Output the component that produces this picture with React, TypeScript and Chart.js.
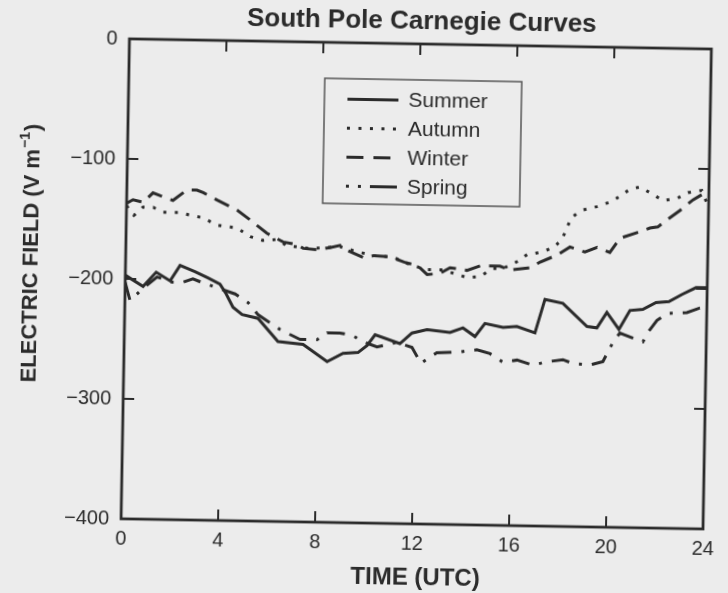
import React, { useEffect, useRef } from "react";
import { Chart, registerables } from "chart.js";

Chart.register(...registerables);

// ---- data (hours UTC, electric field V/m) ----
const summerHours = [0, 0.74, 1.27, 1.85, 2.25, 2.87, 3.41, 3.91, 4.17, 4.46, 4.84, 5.5, 6.34, 7.38, 8.38, 9.03, 9.65, 10.02, 10.34, 11.37, 11.86, 12.48, 13.43, 13.96, 14.46, 14.86, 15.61, 16.18, 16.93, 17.32, 18.06, 19.07, 19.48, 19.88, 20.39, 20.83, 21.36, 21.9, 22.43, 22.96, 23.54, 24];
const summerField = [-197, -206, -194, -201, -188, -193, -198, -203, -211, -222, -228, -231, -250, -252, -266, -259, -258, -252, -243, -250, -241, -238, -240, -236, -243, -232, -235, -234, -239, -211, -214, -233, -234, -221, -235, -219, -218, -212, -211, -205, -199, -199];

const autumnHours = [0, 0.31, 0.68, 1.1, 1.51, 2.21, 2.63, 3.16, 3.75, 4.16, 4.57, 5.12, 5.65, 6.23, 6.64, 7.6, 8.3, 8.83, 9.53, 10.2, 11.02, 11.73, 12.43, 13.09, 14.09, 14.62, 15.15, 15.56, 16.14, 16.55, 17.08, 17.61, 17.98, 18.17, 18.37, 18.82, 19.39, 19.93, 20.34, 20.74, 21.15, 21.7, 22.11, 22.69, 23.14, 23.71, 24];
const autumnField = [-139, -147, -140, -140, -144, -144, -146, -148, -154, -155, -156, -163, -166, -165, -170, -172, -171, -170, -174, -177, -178, -184, -188, -188, -194, -193, -186, -186, -180, -174, -172, -168, -161, -151, -142, -136, -133, -129, -124, -118, -116, -122, -127, -125, -120, -118, -132];

const winterHours = [0, 0.26, 0.68, 1.08, 1.91, 2.48, 2.89, 3.15, 3.73, 4.56, 5.1, 5.81, 6.48, 7.06, 7.31, 7.88, 8.42, 8.83, 9.12, 9.83, 10.24, 10.94, 11.48, 12.06, 12.44, 12.97, 13.38, 14.08, 14.62, 15.44, 15.85, 16.68, 17.09, 17.78, 18.31, 18.93, 19.43, 19.96, 20.37, 21.07, 21.6, 21.92, 22.29, 22.82, 23.35, 23.83, 24];
const winterField = [-137, -134, -136, -128, -134, -125, -125, -127, -133, -141, -149, -160, -167, -169, -172, -173, -171, -169, -173, -179, -177, -178, -182, -185, -192, -191, -186, -188, -184, -184, -187, -185, -180, -174, -167, -171, -167, -171, -159, -154, -150, -149, -143, -135, -126, -120, -122];

const springHours = [0, 0.21, 0.78, 1.31, 1.93, 2.38, 2.79, 3.17, 4.54, 5.08, 5.5, 6.42, 7.25, 7.95, 8.36, 8.89, 9.43, 9.85, 10.43, 11.25, 11.87, 12.25, 12.9, 13.85, 14.55, 15.09, 15.63, 16.21, 16.87, 17.44, 18.1, 18.52, 19.22, 19.75, 20.15, 20.43, 20.97, 21.39, 21.59, 21.95, 22.36, 23.18, 23.71, 24];
const springField = [-203, -218, -207, -198, -202, -202, -199, -202, -211, -218, -228, -240, -248, -248, -242, -242, -244, -249, -253, -249, -253, -266, -257, -256, -254, -257, -264, -262, -266, -263, -261, -264, -265, -262, -246, -238, -242, -245, -237, -227, -221, -220, -216, -216];

const seriesNames = ["Summer", "Autumn", "Winter", "Spring"];
const xTickValues = [0, 4, 8, 12, 16, 20, 24];
const yTickValues = [0, -100, -200, -300, -400];

const chartTitle = "South Pole Carnegie Curves";
const xAxisTitle = "TIME (UTC)";
const yAxisTitleMain = "ELECTRIC FIELD (V m";
const yAxisTitleSup = "\u22121";
const yAxisTitleEnd = ")";

// ---- styling ----
const INK = "#2b2b2b";
const BG = "#ececec";
const FONT = "'Liberation Sans', Arial, Helvetica, sans-serif";

const dashes = [[], [3, 8.5], [16, 9], [18, 10, 3, 10]];
const legendDashes = [[], [3, 8.5], [17, 10], [3, 9, 3, 9, 28, 40]];
const widths = [3, 3, 3, 3];

function toPoints(h: number[], v: number[]) {
  return h.map((x, i) => ({ x, y: v[i] }));
}

const overlay = {
  id: "overlay",
  afterDatasetsDraw(chart: any) {
    const { ctx, chartArea: a, scales } = chart;
    const xs = scales.x;
    const ys = scales.y;
    ctx.save();
    ctx.strokeStyle = INK;
    ctx.lineCap = "butt";
    ctx.setLineDash([]);
    // frame
    ctx.lineWidth = 2.8;
    ctx.strokeRect(a.left, a.top, a.right - a.left, a.bottom - a.top);
    // inward ticks on all sides
    ctx.lineWidth = 2;
    const L = 11;
    const seg = (x1: number, y1: number, x2: number, y2: number) => {
      ctx.beginPath();
      ctx.moveTo(x1, y1);
      ctx.lineTo(x2, y2);
      ctx.stroke();
    };
    xTickValues.slice(1, -1).forEach((t) => {
      const px = xs.getPixelForValue(t);
      seg(px, a.bottom, px, a.bottom - L);
      seg(px, a.top, px, a.top + L);
    });
    yTickValues.slice(1, -1).forEach((v) => {
      const py = ys.getPixelForValue(v);
      seg(a.left, py, a.left + L, py);
      seg(a.right, py, a.right - L, py);
    });

    // legend box
    const bx = 321, by = 79, bw = 197, bh = 125;
    ctx.fillStyle = BG;
    ctx.fillRect(bx, by, bw, bh);
    ctx.lineWidth = 1.5;
    ctx.strokeStyle = "#555555";
    ctx.strokeRect(bx, by, bw, bh);
    ctx.strokeStyle = INK;
    ctx.fillStyle = INK;
    ctx.font = `21px ${FONT}`;
    ctx.textAlign = "left";
    ctx.textBaseline = "middle";
    chart.data.datasets.forEach((ds: any, i: number) => {
      const yy = 99.5 + i * 29;
      ctx.lineWidth = ds.borderWidth;
      ctx.setLineDash(legendDashes[i]);
      seg(344, yy, 395, yy);
      ctx.setLineDash([]);
      ctx.fillText(ds.label, 405, yy + 1);
    });

    // chart title
    ctx.textAlign = "center";
    ctx.textBaseline = "alphabetic";
    ctx.font = `bold 26px ${FONT}`;
    ctx.fillText(chartTitle, 417, 28);

    // x axis title
    ctx.font = `bold 24px ${FONT}`;
    ctx.fillText(xAxisTitle, 420, 584);

    // y axis title (rotated, with superscript)
    ctx.translate(37, 259);
    ctx.rotate(-Math.PI / 2);
    const mainFont = `bold 22px ${FONT}`;
    const supFont = `bold 14px ${FONT}`;
    ctx.font = mainFont;
    const w1 = ctx.measureText(yAxisTitleMain).width;
    const w3 = ctx.measureText(yAxisTitleEnd).width;
    ctx.font = supFont;
    const w2 = ctx.measureText(yAxisTitleSup).width;
    const total = w1 + w2 + 2 + w3;
    let cx = -total / 2;
    ctx.textAlign = "left";
    ctx.font = mainFont;
    ctx.fillText(yAxisTitleMain, cx, 0);
    cx += w1 + 1;
    ctx.font = supFont;
    ctx.fillText(yAxisTitleSup, cx, -10);
    cx += w2 + 1;
    ctx.font = mainFont;
    ctx.fillText(yAxisTitleEnd, cx, 0);
    ctx.restore();
  },
};

export default function App() {
  const ref = useRef<HTMLCanvasElement | null>(null);

  useEffect(() => {
    document.body.style.margin = "0";
    document.body.style.background = BG;
    const canvas = ref.current;
    if (!canvas) return;
    const series = [
      toPoints(summerHours, summerField),
      toPoints(autumnHours, autumnField),
      toPoints(winterHours, winterField),
      toPoints(springHours, springField),
    ];
    const chart = new Chart(canvas, {
      type: "line",
      data: {
        datasets: series.map((d, i) => ({
          label: seriesNames[i],
          data: d,
          borderColor: INK,
          backgroundColor: INK,
          borderWidth: widths[i],
          borderDash: dashes[i],
          borderCapStyle: "butt",
          borderJoinStyle: "miter",
          pointRadius: 0,
          tension: 0,
          fill: false,
        })),
      },
      options: {
        animation: false,
        responsive: false,
        devicePixelRatio: 1,
        layout: { padding: { top: 43, right: 21, left: 0, bottom: 0 } },
        plugins: {
          legend: { display: false },
          title: { display: false },
          tooltip: { enabled: false },
        },
        scales: {
          x: {
            type: "linear",
            min: 0,
            max: 24,
            afterBuildTicks: (s: any) => {
              s.ticks = xTickValues.map((v) => ({ value: v }));
            },
            ticks: {
              color: INK,
              font: { size: 20, family: FONT },
              padding: 8,
              maxRotation: 0,
              autoSkip: false,
            },
            grid: { display: false, drawTicks: false },
            border: { display: false },
            afterFit: (s: any) => {
              s.height = 70;
            },
          },
          y: {
            type: "linear",
            min: -400,
            max: 0,
            afterBuildTicks: (s: any) => {
              s.ticks = yTickValues.map((v) => ({ value: v }));
            },
            ticks: {
              color: INK,
              font: { size: 20, family: FONT },
              padding: 12,
              callback: (v: any) => (Number(v) < 0 ? "\u2212" + Math.abs(Number(v)) : String(v)),
            },
            grid: { display: false, drawTicks: false },
            border: { display: false },
            afterFit: (s: any) => {
              s.width = 125;
            },
          },
        },
      },
      plugins: [overlay],
    } as any);
    return () => chart.destroy();
  }, []);

  return (
    <div
      style={{
        position: "fixed",
        left: 0,
        top: 0,
        width: 728,
        height: 593,
        overflow: "hidden",
        background: BG,
      }}
    >
      <canvas
        ref={ref}
        width={728}
        height={593}
        style={{
          display: "block",
          width: 728,
          height: 593,
          transform: "rotate(1deg)",
          transformOrigin: "364px 296.5px",
        }}
      />
    </div>
  );
}
